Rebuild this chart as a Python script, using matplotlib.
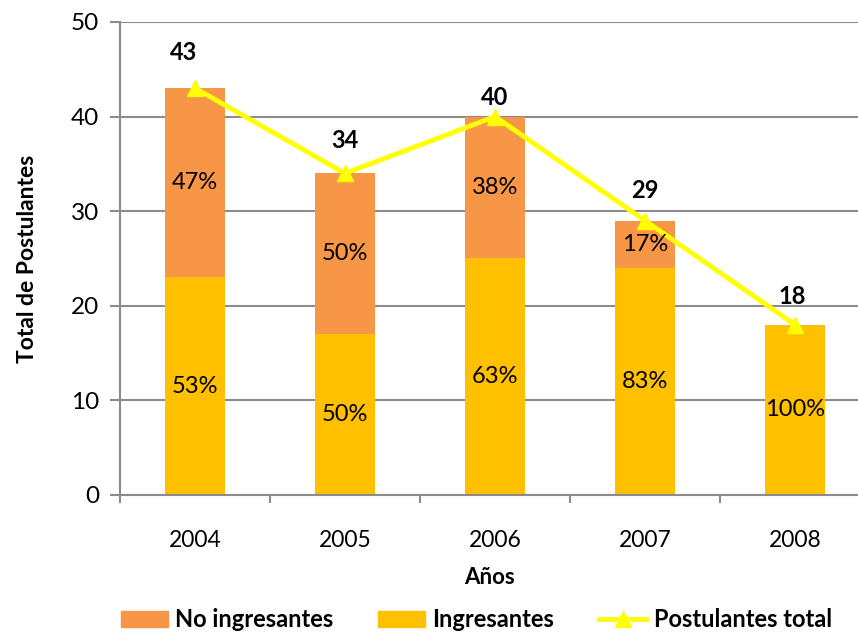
import numpy as np
import matplotlib.pyplot as plt
from matplotlib.patches import Patch
from matplotlib.lines import Line2D

plt.rcParams['font.family'] = ['Lato', 'DejaVu Sans']

# datos
anios = ['2004', '2005', '2006', '2007', '2008']
ingresantes = [23, 17, 25, 24, 18]
no_ingresantes = [20, 17, 15, 5, 0]
total = [43, 34, 40, 29, 18]
pct_ing = ['53%', '50%', '63%', '83%', '100%']
pct_no = ['47%', '50%', '38%', '17%', '']

c_no = '#F79646'
c_ing = '#FFC000'
c_line = '#FFFF00'
c_grid = '#8C8C8C'

fig = plt.figure(figsize=(8.58, 6.35), dpi=100)
ax = fig.add_axes([0.1399, 0.2205, 0.8601, 0.7449])

x = np.arange(len(anios))
ax.bar(x, ingresantes, width=0.4, color=c_ing, zorder=2)
ax.bar(x, no_ingresantes, width=0.4, bottom=ingresantes, color=c_no, zorder=2)
ax.plot(x, total, color=c_line, lw=3.5, marker='^', ms=12, zorder=3)

for i in range(len(x)):
    ax.text(x[i], ingresantes[i] / 2, pct_ing[i], ha='center', va='center', fontsize=17, zorder=4)
    if pct_no[i]:
        ax.text(x[i], ingresantes[i] + no_ingresantes[i] / 2, pct_no[i], ha='center', va='center',
                fontsize=17, zorder=4)

# etiquetas de total (desplazadas como en el original)
desp = [(-8, 26), (0, 24), (0, 14), (0, 22), (-2, 20)]
for i in range(len(x)):
    ax.annotate(str(total[i]), (x[i], total[i]), xytext=desp[i], textcoords='offset points',
                ha='center', va='center', fontsize=17, fontweight='bold', zorder=4)

ax.set_xlim(-0.5, 4.42)
ax.set_ylim(0, 50)
ax.set_yticks(range(0, 51, 10))
ax.set_xticks(x)
ax.set_xticklabels(anios)
ax.set_xticks(np.arange(-0.5, 4.5, 1), minor=True)
ax.tick_params(axis='x', which='major', length=0, labelsize=16.5, pad=25)
ax.tick_params(axis='x', which='minor', length=6, color=c_grid, width=1.5)
ax.tick_params(axis='y', length=7, color=c_grid, width=1.5, labelsize=17.5, pad=8)
ax.yaxis.grid(True, color=c_grid, lw=1.5, zorder=0)
ax.set_axisbelow(True)
for s in ['top', 'right']:
    ax.spines[s].set_visible(False)
for s in ['left', 'bottom']:
    ax.spines[s].set_color(c_grid)
    ax.spines[s].set_linewidth(1.5)

ax.set_xlabel('Años', fontsize=16, fontweight='bold', labelpad=12)
ax.set_ylabel('Total de Postulantes', fontsize=16.5, fontweight='bold', labelpad=24)

handles = [Patch(color=c_no, label='No ingresantes'),
           Patch(color=c_ing, label='Ingresantes'),
           Line2D([], [], color=c_line, lw=3.5, marker='^', ms=12, label='Postulantes total')]
fig.legend(handles=handles, loc='center', bbox_to_anchor=(0.555, 0.024), ncol=3, frameon=False,
           prop={'size': 17, 'weight': 'bold'}, handlelength=2.0, columnspacing=1.9, handletextpad=0.3)

fig.savefig('out.png')
